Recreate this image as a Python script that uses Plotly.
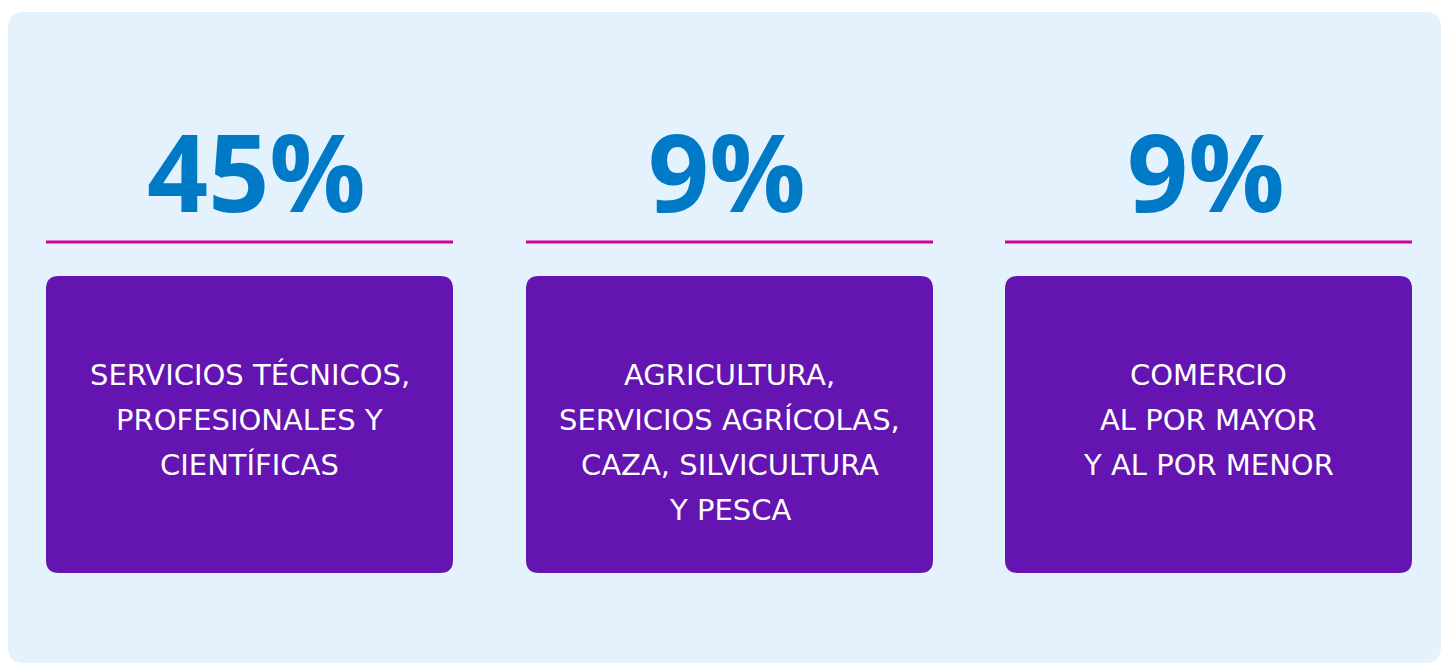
import plotly.graph_objects as go

# ---- data ----
categories = [
    ["SERVICIOS TÉCNICOS,", "PROFESIONALES Y", "CIENTÍFICAS"],
    ["AGRICULTURA,", "SERVICIOS AGRÍCOLAS,", "CAZA, SILVICULTURA", "Y PESCA"],
    ["COMERCIO", "AL POR MAYOR", "Y AL POR MENOR"],
]
values = [45, 9, 9]
value_labels = [f"{v}%" for v in values]

# ---- layout constants (pixels) ----
W, H = 1442, 665
BG_PAGE = "#FFFFFF"
BG_PANEL = "#E3F2FD"
CARD = "#6414B0"
LINE = "#D4009B"
NUM = "#0079C6"

card_lefts = [46, 526, 1005]
card_w = 407
card_top, card_bot = 276, 573
line_y = 242
num_anchor = 245
num_dx = [7, -3, -3]
text_first_y = 375
line_gap = 45


def rrect(x0, y0, x1, y1, r):
    return (f"M {x0+r},{y0} L {x1-r},{y0} Q {x1},{y0} {x1},{y0+r} "
            f"L {x1},{y1-r} Q {x1},{y1} {x1-r},{y1} L {x0+r},{y1} "
            f"Q {x0},{y1} {x0},{y1-r} L {x0},{y0+r} Q {x0},{y0} {x0+r},{y0} Z")


fig = go.Figure()
shapes = []
annotations = []

# panel
shapes.append(dict(type="path", path=rrect(8, 12, 1441, 663, 16),
                   xref="x", yref="y", fillcolor=BG_PANEL, line=dict(width=0), layer="below"))

for i, (lab, vl) in enumerate(zip(categories, value_labels)):
    x0 = card_lefts[i]
    x1 = x0 + card_w
    cx = (x0 + x1) / 2
    shapes.append(dict(type="path", path=rrect(x0, card_top, x1, card_bot, 13),
                       xref="x", yref="y", fillcolor=CARD, line=dict(width=0), layer="below"))
    shapes.append(dict(type="line", x0=x0, x1=x1, y0=line_y, y1=line_y,
                       xref="x", yref="y", line=dict(color=LINE, width=3)))
    annotations.append(dict(x=cx + num_dx[i], y=num_anchor, xref="x", yref="y", text=f"<b>{vl}</b>",
                            showarrow=False, xanchor="center", yanchor="bottom",
                            font=dict(family="Open Sans, sans-serif", size=107, color=NUM)))
    for j, t in enumerate(lab):
        annotations.append(dict(x=cx, y=text_first_y + j * line_gap, xref="x", yref="y", text=t,
                                showarrow=False, xanchor="center", yanchor="middle",
                                font=dict(family="DejaVu Sans", size=29, color="#FFFFFF")))

fig.update_layout(
    width=W, height=H, margin=dict(l=0, r=0, t=0, b=0),
    paper_bgcolor=BG_PAGE, plot_bgcolor=BG_PAGE,
    xaxis=dict(range=[0, W], visible=False, fixedrange=True),
    yaxis=dict(range=[H, 0], visible=False, fixedrange=True),
    shapes=shapes, annotations=annotations, showlegend=False,
)

fig.write_html("out.html", config={"displayModeBar": False},
               post_script="document.body.style.margin='0';document.body.style.overflow='hidden';")
